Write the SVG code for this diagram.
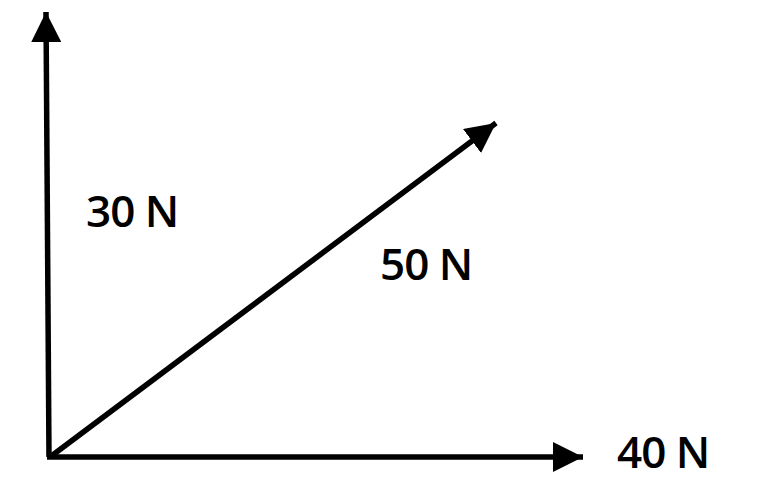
<svg xmlns="http://www.w3.org/2000/svg" width="757" height="481" viewBox="0 0 757 481">
<defs>
<marker id="ah" markerUnits="userSpaceOnUse" markerWidth="32" markerHeight="30" refX="30" refY="15" orient="auto">
<path d="M0,0 L30,15 L0,30 Z" fill="#000"/>
</marker>
<style>
.c{stroke:#000;stroke-width:5.5;fill:none;marker-end:url(#ah)}
.t{font-family:"Open Sans","Liberation Sans",Arial,sans-serif;font-size:44px;font-weight:600;fill:#000;letter-spacing:-1px}
</style>
</defs>
<rect width="757" height="481" fill="#fff"/>
<g id="connectors">
<path class="c" d="M49,457 L46,12"/>
<path class="c" d="M47,457 L583,457"/>
<path class="c" d="M50,457 L496,123"/>
</g>
<g id="label30"><text class="t" x="86" y="227">30 N</text></g>
<g id="label50"><text class="t" x="380" y="280">50 N</text></g>
<g id="label40"><text class="t" x="617" y="468">40 N</text></g>
</svg>
